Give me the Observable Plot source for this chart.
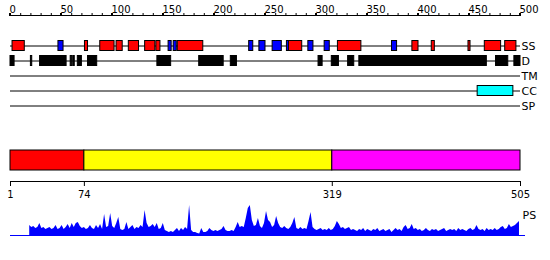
<!DOCTYPE html>
<html><head><meta charset="utf-8">
<script src="https://cdn.jsdelivr.net/npm/d3@7"></script>
<script src="https://cdn.jsdelivr.net/npm/@observablehq/plot@0.6"></script>
<style>
html,body{margin:0;padding:0;background:#fff;}
#chart{width:550px;height:260px;overflow:hidden;}
#chart svg{display:block;}
</style></head><body><div id="chart"></div>
<script>
// ---- data ----
const tracks = ["SS", "D", "TM", "CC", "SP"];
const topTickLabels = [0, 50, 100, 150, 200, 250, 300, 350, 400, 450, 500];
const topMinorStep = 10;

// secondary structure: H = helix (red), E = strand (blue)
const ssStart = [2, 47, 73, 88, 104, 116, 132, 143, 155, 160, 164, 234, 244, 257, 271, 273, 292, 308, 321, 374, 394, 413, 449, 465, 485];
const ssEnd   = [14, 52, 76, 102, 110, 126, 142, 147, 158, 163, 189, 238, 250, 266, 273, 286, 297, 313, 344, 379, 400, 416, 451, 481, 496];
const ssType  = ["H","E","H","H","H","H","H","H","E","E","H","E","E","E","E","H","E","E","H","E","H","H","H","H","H"];

// disorder
const dStart = [0, 20, 29, 59, 61.5, 66, 76, 144, 185, 216, 302, 315, 331, 342, 476, 494];
const dEnd   = [4, 21.3, 55, 60.5, 63, 70, 85, 157.5, 209, 222, 306, 322, 337, 467, 488, 500];

// coiled coil
const ccStart = [458];
const ccEnd   = [493];

// domain bar
const regionStart = [1, 74, 319];
const regionEnd   = [74, 319, 505];
const regionColor = ["#ff0000", "#ffff00", "#ff00ff"];
const bottomTicks = [1, 74, 319, 505];

// PS profile (residue 20..504, every 2 residues)
const psFirst = 20, psStep = 2;
const psValues = [
 10, 8, 9, 7, 8, 12, 7, 8, 6, 7,
 8, 6, 7, 10, 6, 7, 10, 6, 8, 11,
 7, 12, 8, 12, 13, 9, 7, 8, 6, 7,
 10, 7, 6, 10, 7, 11, 6, 21, 8, 9,
 22, 9, 7, 12, 18, 6, 5, 6, 13, 6,
 8, 10, 6, 8, 7, 10, 8, 25, 12, 8,
 9, 11, 8, 12, 6, 7, 12, 5, 4, 3,
 4, 3, 5, 7, 4, 7, 5, 8, 6, 30,
 5, 3, 3, 2, 1.5, 7, 3, 3, 4, 7,
 5, 4, 5, 4, 5, 6, 9, 5, 4, 4,
 5, 4, 8, 13, 8, 9, 8, 17, 27, 30,
 15, 9, 10, 17, 9, 7, 12, 24, 15, 13,
 8, 10, 19, 12, 8, 7, 9, 7, 6, 8,
 12, 18, 7, 6, 8, 6, 7, 6, 14, 23,
 8, 6, 5, 6, 7, 5, 6, 5, 7, 5,
 6, 9, 14, 11, 7, 8, 6, 7, 8, 5,
 6, 5, 4, 6, 5, 7, 4, 6, 5, 4,
 6, 5, 7, 4, 5, 6, 4, 5, 6, 3,
 5, 7, 5, 6, 4, 8, 10, 6, 7, 11,
 6, 7, 5, 6, 4, 5, 7, 5, 4, 6,
 5, 6, 4, 5, 6, 7, 4, 5, 6, 5,
 6, 4, 7, 5, 6, 5, 4, 6, 7, 5,
 6, 10, 6, 5, 6, 4, 7, 5, 6, 5,
 7, 5, 6, 8, 9, 6, 7, 11, 8, 9,
 10, 12, 14
];

// ---- tables ----
const kindColor = {H: "#ff0000", E: "#0000ff", D: "#000000", CC: "#00ffff"};
const features = [
  ...ssStart.map((s, i) => ({track: "SS", start: s, end: ssEnd[i], kind: ssType[i]})),
  ...dStart.map((s, i) => ({track: "D", start: s, end: dEnd[i], kind: "D"})),
  ...ccStart.map((s, i) => ({track: "CC", start: s, end: ccEnd[i], kind: "CC"}))
];
const regions = regionStart.map((s, i) => ({start: s, end: regionEnd[i], color: regionColor[i]}));
const ps = psValues.map((v, i) => ({r: psFirst + i * psStep, v}));
const topMinor = d3.range(0, 501, topMinorStep);

const font = {fontFamily: '"DejaVu Sans", sans-serif', fontSize: "10px", background: "white", color: "black", overflow: "visible"};

const plotA = Plot.plot({
  width: 550, height: 120, marginTop: 15, marginLeft: 10, marginRight: 30, marginBottom: 0,
  style: font,
  x: {domain: [0, 500], label: null},
  y: {type: "band", domain: tracks, range: [37.5, 112.5], padding: 0, axis: null},
  color: {type: "identity"},
  marks: [
    Plot.frame({anchor: "top"}),
    Plot.axisX(topMinor, {anchor: "top", tickSize: 3, tickFormat: () => ""}),
    Plot.axisX(topTickLabels, {anchor: "top", tickSize: 3, tickPadding: 0, textAnchor: "start", dx: -1}),
    Plot.ruleY(tracks, {y: d => d, stroke: "black"}),
    Plot.barX(features, {x1: "start", x2: "end", y: "track", fill: d => kindColor[d.kind], stroke: "black", strokeWidth: 1, insetTop: 2.5, insetBottom: 2.5}),
    Plot.text(tracks, {y: d => d, text: d => d, frameAnchor: "right", textAnchor: "start", dx: 1, fontSize: 11})
  ]
});

const plotB = Plot.plot({
  width: 550, height: 85, marginTop: 30, marginBottom: 24, marginLeft: 10, marginRight: 30,
  style: font,
  x: {domain: [1, 505], label: null},
  color: {type: "identity"},
  marks: [
    Plot.barX(regions, {x1: "start", x2: "end", fill: "color", stroke: "black", insetBottom: 11}),
    Plot.frame({anchor: "bottom"}),
    Plot.axisX(bottomTicks, {anchor: "bottom", tickSize: 5, tickPadding: 4})
  ]
});

const plotC = Plot.plot({
  width: 550, height: 55, marginTop: 0, marginBottom: 25, marginLeft: 10, marginRight: 25,
  style: font,
  x: {domain: [1, 505], range: [10, 520], axis: null},
  y: {domain: [0, 30], axis: null},
  marks: [
    Plot.ruleY([0], {stroke: "#0000ff"}),
    Plot.areaY(ps, {x: "r", y: "v", fill: "#0000ff"}),
    Plot.text(["PS"], {frameAnchor: "top-right", text: d => d, textAnchor: "start", dx: -3, dy: 6, fontSize: 11})
  ]
});

const chart = document.getElementById("chart");
chart.append(plotA, plotB, plotC);
</script>
</body></html>
